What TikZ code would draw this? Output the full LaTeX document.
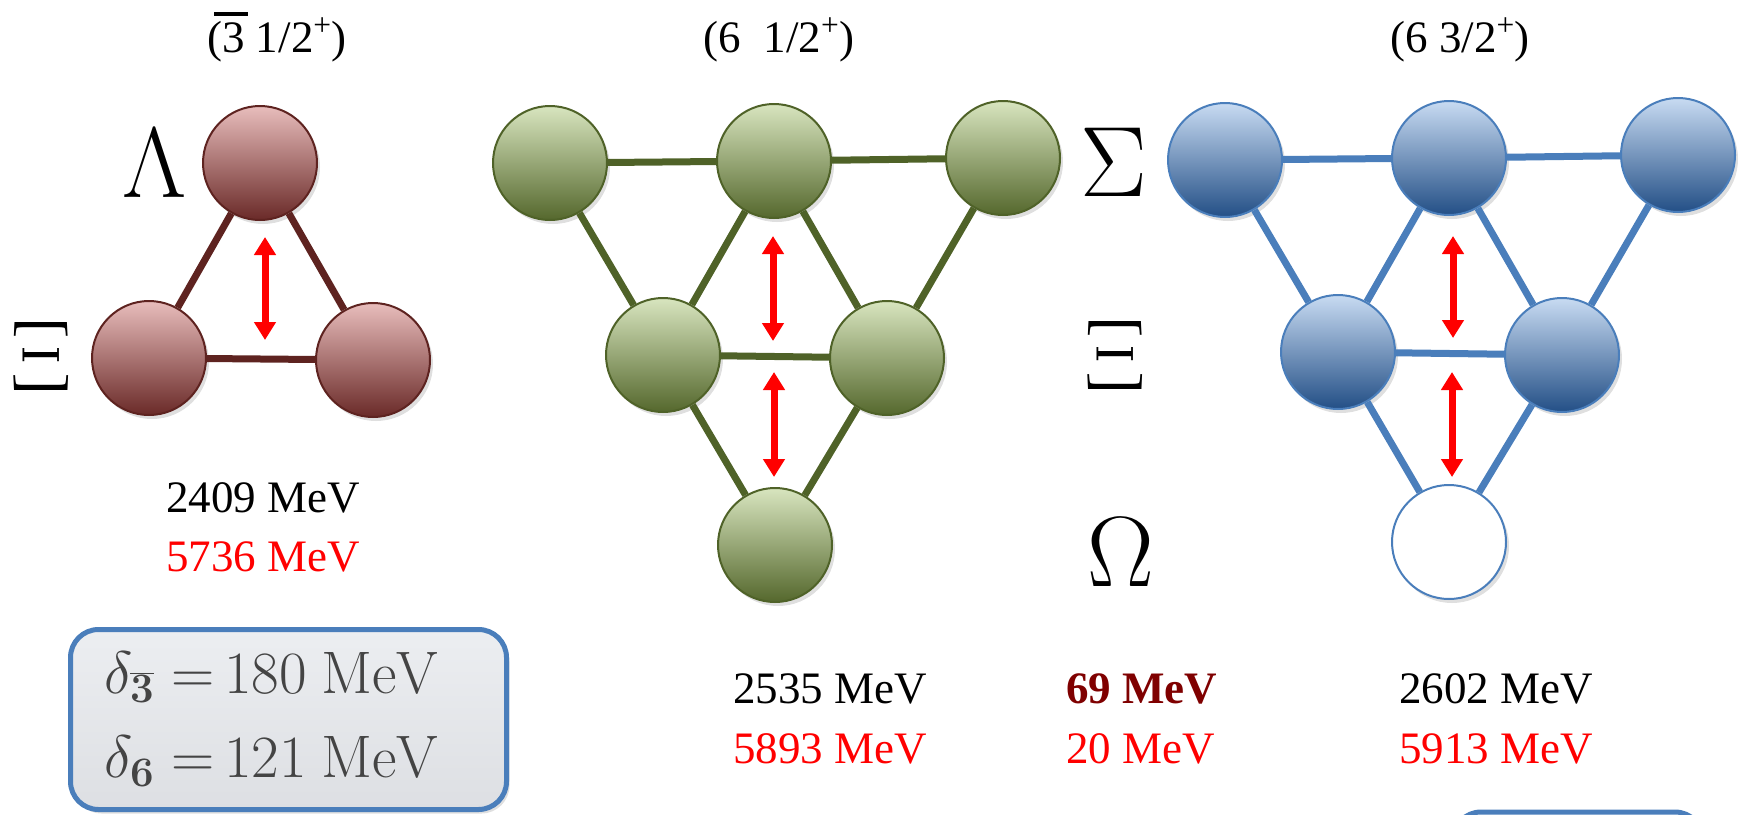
\RequirePackage{fix-cm}
\documentclass[tikz,border=0pt]{standalone}
\usepackage[no-math]{fontspec}
\setmainfont{Liberation Serif}
\usepackage{graphicx}
\usetikzlibrary{arrows.meta,shadows}
\definecolor{redline}{HTML}{5E2320}
\definecolor{redtop}{HTML}{E8BDBC}
\definecolor{redbot}{HTML}{6A2A28}
\definecolor{grnline}{HTML}{4F6228}
\definecolor{grntop}{HTML}{D8E5BF}
\definecolor{grnbot}{HTML}{55682D}
\definecolor{bluline}{HTML}{4A7EBB}
\definecolor{blutop}{HTML}{C8DBF2}
\definecolor{blubot}{HTML}{234F86}
\definecolor{darkred}{HTML}{7F0000}
\definecolor{boxtext}{HTML}{444444}
\definecolor{boxtop}{HTML}{ECEEF1}
\definecolor{boxbot}{HTML}{DDDFE3}
\tikzset{
  ball/.style={circle, minimum size=114pt, inner sep=0pt, line width=2pt,
    drop shadow={shadow xshift=3pt, shadow yshift=-4pt, opacity=0.25}},
  redball/.style={ball, draw=redline, top color=redtop, bottom color=redbot},
  grnball/.style={ball, draw=grnline, top color=grntop, bottom color=grnbot},
  bluball/.style={ball, draw=bluline, top color=blutop, bottom color=blubot},
  emptyball/.style={ball, draw=bluline, fill=white},
  rededge/.style={draw=redline, line width=7pt},
  grnedge/.style={draw=grnline, line width=7pt},
  bluedge/.style={draw=bluline, line width=7pt},
  splitarrow/.style={draw=red, line width=7pt,
    {Triangle[width=21pt,length=18pt]}-{Triangle[width=21pt,length=18pt]}},
  big/.style={font=\fontsize{45}{54}\selectfont, inner sep=0pt},
  greek/.style={font=\fontsize{100}{120}\selectfont, inner sep=0pt},
  mathtxt/.style={font=\fontsize{60}{72}\selectfont, inner sep=0pt, text=boxtext},
  deltabox/.style={draw=bluline, line width=5pt, rounded corners=28pt,
    top color=boxtop, bottom color=boxbot, minimum width=436pt, minimum height=180pt,
    inner sep=0pt, drop shadow={shadow xshift=3pt, shadow yshift=-4pt, opacity=0.25}},
}
\begin{document}
\begin{tikzpicture}[x=1pt, y=-1pt]
\useasboundingbox (0,0) rectangle (1742,814);

% titles
\node[big, anchor=base] (t1) at (277,52) {(\makebox[0pt][l]{\hspace{-0.18em}\rule[0.8em]{0.75em}{0.09em}}3 1/2\textsuperscript{+})};
\node[big, anchor=base] (t2) at (779,52) {(6\hspace{0.5em}1/2\textsuperscript{+})};
\node[big, anchor=base] (t3) at (1460,52) {(6 3/2\textsuperscript{+})};

% greek labels
\node[greek] (lam) at (155,163) {$\Lambda$};
\node[greek] (xi1) at (41,356) {$\Xi$};
\node[greek] (sig) at (1114,162) {$\Sigma$};
\node[greek] (xi2) at (1115,355) {$\Xi$};
\node[greek] (om) at (1121,552) {$\Omega$};

% anti-triplet
\node[redball] (rT) at (260,163) {};
\node[redball] (rL) at (149,358) {};
\node[redball] (rR) at (373,360) {};
\draw[rededge] (rT) -- (rL);
\draw[rededge] (rT) -- (rR);
\draw[rededge] (rL) -- (rR);

% sextet 1/2
\node[grnball] (g1) at (550,163) {};
\node[grnball] (g2) at (774,161) {};
\node[grnball] (g3) at (1003,158) {};
\node[grnball] (g4) at (663,355) {};
\node[grnball] (g5) at (887,358) {};
\node[grnball] (g6) at (775,545) {};
\draw[grnedge] (g1) -- (g2);
\draw[grnedge] (g2) -- (g3);
\draw[grnedge] (g1) -- (g4);
\draw[grnedge] (g2) -- (g4);
\draw[grnedge] (g2) -- (g5);
\draw[grnedge] (g3) -- (g5);
\draw[grnedge] (g4) -- (g5);
\draw[grnedge] (g4) -- (g6);
\draw[grnedge] (g5) -- (g6);

% sextet 3/2
\node[bluball] (b1) at (1225,160) {};
\node[bluball] (b2) at (1449,158) {};
\node[bluball] (b3) at (1678,155) {};
\node[bluball] (b4) at (1338,352) {};
\node[bluball] (b5) at (1562,355) {};
\node[emptyball] (b6) at (1449,542) {};
\draw[bluedge] (b1) -- (b2);
\draw[bluedge] (b2) -- (b3);
\draw[bluedge] (b1) -- (b4);
\draw[bluedge] (b2) -- (b4);
\draw[bluedge] (b2) -- (b5);
\draw[bluedge] (b3) -- (b5);
\draw[bluedge] (b4) -- (b5);
\draw[bluedge] (b4) -- (b6);
\draw[bluedge] (b5) -- (b6);

% splitting arrows
\coordinate (ra1) at (265,237); \coordinate (ra2) at (265,340);
\coordinate (ga1) at (773,236); \coordinate (ga2) at (773,341);
\coordinate (ga3) at (774,372); \coordinate (ga4) at (774,477);
\coordinate (ba1) at (1453,236); \coordinate (ba2) at (1453,338);
\coordinate (ba3) at (1452,372); \coordinate (ba4) at (1452,477);
\draw[splitarrow] (ra1) -- (ra2);
\draw[splitarrow] (ga1) -- (ga2);
\draw[splitarrow] (ga3) -- (ga4);
\draw[splitarrow] (ba1) -- (ba2);
\draw[splitarrow] (ba3) -- (ba4);

% masses
\node[big, anchor=base] (m1a) at (263,512) {2409 MeV};
\node[big, anchor=base, text=red] (m1b) at (263,571) {5736 MeV};
\node[big, anchor=base] (m2a) at (830,703) {2535 MeV};
\node[big, anchor=base, text=red] (m2b) at (830,763) {5893 MeV};
\node[big, anchor=base west, text=darkred] (m3a) at (1066,703) {\bfseries 69 MeV};
\node[big, anchor=base west, text=red] (m3b) at (1066,763) {20 MeV};
\node[big, anchor=base] (m4a) at (1496,703) {2602 MeV};
\node[big, anchor=base, text=red] (m4b) at (1496,763) {5913 MeV};

% delta box
\node[deltabox] (dbox) at (288.5,719.5) {};
\node[mathtxt, anchor=base west] (d3) at (104,693) {$\delta_{\overline{\mathbf{3}}}\;{=}\,180\ \mathrm{MeV}$};
\node[mathtxt, anchor=base west] (d6) at (104,777) {$\delta_{\mathbf{6}}\;{=}\,121\ \mathrm{MeV}$};

% partially visible box at bottom right
\begin{scope}
\clip (0,0) rectangle (1742,814);
\draw[bluline, line width=5pt, rounded corners=28pt] (1453,812) rectangle (1703,950);
\end{scope}
\end{tikzpicture}
\end{document}
